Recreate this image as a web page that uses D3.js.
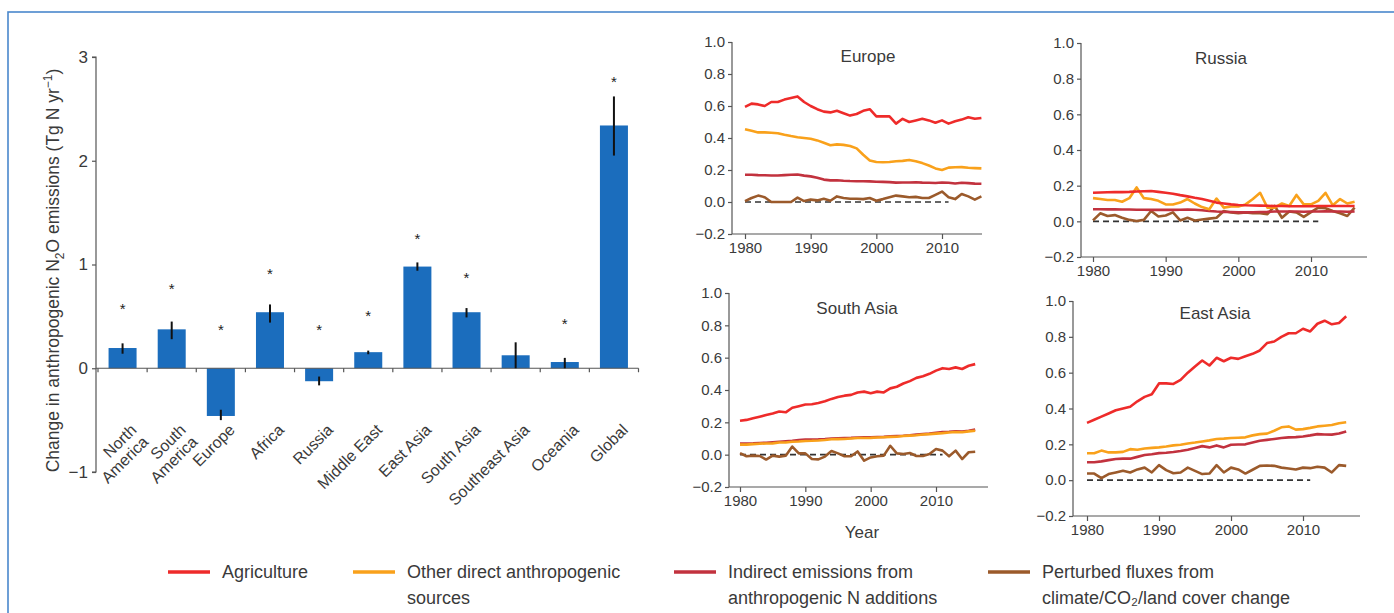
<!DOCTYPE html>
<html>
<head>
<meta charset="utf-8">
<script src="https://cdn.jsdelivr.net/npm/d3@7"></script>
<style>
  body { margin: 0; background: #fff; }
  svg { display: block; font-family: "Liberation Sans", Arial, Helvetica, sans-serif; }
  .axis path, .axis line { stroke: #555; stroke-width: 1.2; }
  .axis text { fill: #3a3a3a; }
</style>
</head>
<body>
<div id="chart"></div>
<script>
//bar chart data
var regions = [["North", "America"], ["South", "America"], ["Europe"], ["Africa"], ["Russia"], ["Middle East"],
               ["East Asia"], ["South Asia"], ["Southeast Asia"], ["Oceania"], ["Global"]];
var barValues = [0.195, 0.375, -0.46, 0.54, -0.125, 0.155, 0.98, 0.54, 0.125, 0.06, 2.34];
var errLow    = [0.14, 0.28, -0.50, 0.44, -0.165, 0.135, 0.94, 0.49, 0.0, 0.0, 2.05];
var errHigh   = [0.24, 0.45, -0.40, 0.615, -0.08, 0.17, 1.02, 0.58, 0.25, 0.10, 2.62];
var starAt    = [0.58, 0.77, 0.38, 0.92, 0.38, 0.51, 1.26, 0.875, null, 0.44, 2.77];
var barTicks  = [-1, 0, 1, 2, 3];

//time series data (1980-2016)
var years = d3.range(1980, 2017);
var seriesNames = ["Agriculture", "Other direct anthropogenic sources", "Indirect emissions from anthropogenic N additions", "Perturbed fluxes from climate/CO2/land cover change"];

var europeAgri = [.595,.615,.61,.60,.625,.625,.64,.65,.66,.625,.60,.58,.565,.56,.57,.555,.54,.55,.57,.58,.535,.535,.535,.49,.52,.50,.51,.52,.51,.495,.51,.49,.505,.515,.53,.52,.525];
var europeOther = [.455,.445,.435,.435,.433,.43,.42,.412,.405,.40,.395,.385,.37,.355,.36,.357,.35,.335,.295,.26,.25,.248,.25,.255,.257,.263,.255,.243,.228,.21,.20,.215,.217,.218,.214,.212,.21];
var europeIndirect = [.17,.17,.168,.167,.166,.166,.168,.17,.172,.165,.16,.152,.14,.135,.136,.133,.131,.13,.13,.129,.127,.126,.124,.121,.122,.122,.123,.121,.12,.119,.122,.12,.116,.12,.118,.115,.114];
var europePerturbed = [.005,.025,.04,.03,0,0,0,0,.027,.006,.015,.01,.02,.008,.035,.025,.02,.02,.018,.025,.008,.018,.03,.04,.035,.03,.032,.025,.025,.045,.065,.03,.018,.05,.035,.015,.035];

var russiaAgri = [.16,.162,.163,.164,.164,.165,.167,.169,.17,.165,.16,.155,.147,.14,.132,.125,.115,.105,.10,.095,.092,.09,.089,.088,.087,.086,.086,.085,.085,.085,.085,.086,.086,.086,.086,.086,.086];
var russiaOther = [.13,.125,.12,.12,.11,.13,.19,.13,.125,.115,.095,.094,.105,.125,.10,.08,.068,.128,.077,.083,.083,.095,.125,.16,.077,.077,.10,.086,.148,.095,.095,.115,.16,.09,.125,.10,.11];
var russiaIndirect = [.068,.068,.067,.067,.066,.066,.065,.065,.064,.064,.064,.064,.065,.066,.065,.062,.058,.055,.053,.052,.05,.05,.051,.052,.053,.055,.055,.055,.055,.054,.055,.055,.056,.055,.055,.054,.055];
var russiaPerturbed = [.005,.045,.03,.035,.02,.008,.002,.008,.058,.027,.033,.05,.005,.02,.005,.01,.015,.02,.058,.05,.045,.05,.045,.045,.04,.086,.02,.055,.05,.025,.052,.077,.073,.058,.045,.03,.077];

var southAsiaAgri = [.21,.215,.225,.235,.245,.255,.267,.262,.29,.30,.31,.312,.32,.33,.345,.357,.365,.37,.385,.39,.38,.39,.385,.41,.42,.44,.455,.475,.485,.50,.52,.535,.53,.54,.53,.55,.56];
var southAsiaOther = [.062,.062,.065,.068,.069,.07,.075,.075,.08,.081,.085,.086,.088,.091,.095,.096,.097,.10,.103,.103,.104,.106,.108,.11,.111,.115,.118,.12,.125,.127,.13,.133,.137,.14,.139,.144,.148];
var southAsiaIndirect = [.068,.069,.07,.072,.074,.077,.08,.083,.086,.09,.093,.094,.095,.097,.10,.102,.103,.104,.106,.108,.108,.109,.11,.113,.115,.117,.12,.124,.127,.13,.136,.14,.142,.145,.143,.148,.155];
var southAsiaPerturbed = [.01,-.01,-.006,-.008,-.03,-.006,-.012,-.006,.05,.008,.008,-.027,-.029,-.012,.023,.008,-.01,-.01,.02,-.037,-.017,-.01,-.006,.055,.008,.004,.01,-.008,-.008,.004,.035,.025,-.01,.025,-.027,.015,.018];

var eastAsiaAgri = [.32,.337,.355,.372,.39,.40,.41,.44,.465,.48,.54,.54,.537,.56,.60,.635,.668,.64,.683,.664,.683,.677,.692,.705,.724,.765,.774,.80,.82,.82,.845,.83,.873,.89,.87,.877,.915];
var eastAsiaOther = [.15,.15,.165,.155,.155,.158,.173,.17,.177,.18,.183,.188,.194,.198,.205,.21,.216,.222,.23,.232,.235,.237,.239,.25,.257,.26,.276,.295,.30,.282,.285,.292,.30,.304,.308,.318,.323];
var eastAsiaIndirect = [.10,.10,.105,.112,.118,.12,.12,.13,.14,.145,.151,.153,.157,.163,.17,.18,.19,.183,.194,.183,.198,.199,.20,.21,.22,.225,.23,.235,.239,.24,.244,.25,.257,.255,.254,.26,.272];
var eastAsiaPerturbed = [.037,.037,.011,.034,.043,.052,.043,.06,.07,.043,.084,.056,.039,.043,.07,.052,.034,.037,.084,.043,.07,.06,.037,.058,.08,.082,.08,.07,.065,.06,.07,.067,.075,.07,.043,.084,.08];

var yearTicks = [1980, 1990, 2000, 2010];
var panelTicks = [-0.2, 0, 0.2, 0.4, 0.6, 0.8, 1.0];

//colour palette
var colors = ['#ee2b2a', '#f9a11b', '#c2323e', '#9b5a2b'];
var barColor = '#1b6dbd';

//appending svg object to body
var svg = d3.select('#chart')
    .append('svg')
    .attr('width', 1394)
    .attr('height', 613);

//outer frame
svg.append('rect')
    .attr('x', 8).attr('y', 12)
    .attr('width', 1400).attr('height', 620)
    .style('fill', 'none')
    .style('stroke', '#4a88cc')
    .style('stroke-width', 1.6);

// ---------------- bar chart ----------------
var x = d3.scaleBand()
    .domain(d3.range(regions.length))
    .range([98, 638.5])
    .paddingInner(0.43)
    .paddingOuter(0.215);

var y = d3.scaleLinear()
    .domain([-1, 3])
    .range([472, 57]);

var gBar = svg.append('g');

gBar.append('g')
    .attr('class', 'axis')
    .attr('transform', 'translate(96,0)')
    .call(d3.axisLeft(y).tickValues(barTicks).tickSize(4).tickPadding(4)
        .tickFormat(function(d) { return d < 0 ? '\u2212' + Math.abs(d) : d; }))
    .call(function(g) { g.select('.domain').attr('d', 'M-4,' + y(3) + 'H0V' + y(-1) + 'H-4'); })
    .selectAll('text').style('font-size', '17px');

//bars
gBar.selectAll('.bar')
    .data(barValues)
    .enter()
    .append('rect')
    .attr('x', function(d, i) { return x(i); })
    .attr('width', x.bandwidth())
    .attr('y', function(d) { return y(Math.max(0, d)); })
    .attr('height', function(d) { return Math.abs(y(d) - y(0)); })
    .style('fill', barColor);

//zero axis with ticks between bars
var boundaries = d3.range(regions.length + 1).map(function(i) { return 98 + i * x.step(); });
gBar.append('line')
    .attr('x1', 96).attr('x2', 638.5)
    .attr('y1', y(0)).attr('y2', y(0))
    .style('stroke', '#555').style('stroke-width', 1.2);
gBar.selectAll('.xtick')
    .data(boundaries)
    .enter()
    .append('line')
    .attr('x1', function(d) { return d; }).attr('x2', function(d) { return d; })
    .attr('y1', y(0)).attr('y2', y(0) + 4)
    .style('stroke', '#555').style('stroke-width', 1.2);

//error bars
gBar.selectAll('.err')
    .data(barValues)
    .enter()
    .append('line')
    .attr('x1', function(d, i) { return x(i) + x.bandwidth() / 2; })
    .attr('x2', function(d, i) { return x(i) + x.bandwidth() / 2; })
    .attr('y1', function(d, i) { return y(errLow[i]); })
    .attr('y2', function(d, i) { return y(errHigh[i]); })
    .style('stroke', '#111').style('stroke-width', 2);

//significance stars (none for Southeast Asia)
gBar.selectAll('.star')
    .data(starAt)
    .enter()
    .append('text')
    .attr('x', function(d, i) { return x(i) + x.bandwidth() / 2; })
    .attr('y', function(d) { return d === null ? 0 : y(d) + 6; })
    .attr('text-anchor', 'middle')
    .style('font-size', '15px')
    .style('fill', '#222')
    .text(function(d) { return d === null ? '' : '*'; });

//category labels
gBar.selectAll('.cat')
    .data(regions)
    .enter()
    .append('text')
    .attr('text-anchor', 'end')
    .style('font-size', '16px')
    .style('fill', '#3a3a3a')
    .attr('transform', function(d, i) {
      return 'translate(' + (x(i) + x.bandwidth() / 2 + 11) + ',' + 427 + ') rotate(-45)';
    })
    .each(function(d) {
      var t = d3.select(this);
      d.forEach(function(line, k) {
        t.append('tspan').attr('x', 0).attr('dy', k === 0 ? '0.35em' : '1.05em').text(line);
      });
    });

//y axis title
var yTitle = gBar.append('text')
    .attr('transform', 'translate(59,' + ((y(3) + y(-1)) / 2 + 6) + ') rotate(-90)')
    .attr('text-anchor', 'middle')
    .style('font-size', '17.5px')
    .style('fill', '#3a3a3a');
yTitle.append('tspan').text('Change in anthropogenic N');
yTitle.append('tspan').attr('dy', 5).style('font-size', '12px').text('2');
yTitle.append('tspan').attr('dy', -5).text('O emissions (Tg N yr');
yTitle.append('tspan').attr('dy', -7).style('font-size', '12px').text('\u22121');
yTitle.append('tspan').attr('dy', 7).text(')');

// ---------------- regional time series ----------------
var panels = [
  {name: 'Europe',     data: [europeAgri, europeOther, europeIndirect, europePerturbed],
   axisX: 732, x1980: 745, x2010: 942, xEnd: 982, yTop: 42, yBot: 234, titleX: 868, titleY: 56},
  {name: 'Russia',     data: [russiaAgri, russiaOther, russiaIndirect, russiaPerturbed],
   axisX: 1081, x1980: 1093, x2010: 1311, xEnd: 1367, yTop: 43, yBot: 257, titleX: 1221, titleY: 58},
  {name: 'South Asia', data: [southAsiaAgri, southAsiaOther, southAsiaIndirect, southAsiaPerturbed],
   axisX: 729, x1980: 740, x2010: 936, xEnd: 988, yTop: 293, yBot: 487, titleX: 857, titleY: 308},
  {name: 'East Asia',  data: [eastAsiaAgri, eastAsiaOther, eastAsiaIndirect, eastAsiaPerturbed],
   axisX: 1073, x1980: 1087, x2010: 1303, xEnd: 1360, yTop: 301, yBot: 516, titleX: 1215, titleY: 313}
];

panels.forEach(function(p) {
  var px = d3.scaleLinear().domain([1980, 2010]).range([p.x1980, p.x2010]);
  var py = d3.scaleLinear().domain([-0.2, 1.0]).range([p.yBot, p.yTop]);
  var g = svg.append('g');

  //axes
  g.append('g')
    .attr('class', 'axis')
    .attr('transform', 'translate(' + p.axisX + ',0)')
    .call(d3.axisLeft(py).tickValues(panelTicks).tickSize(4).tickPadding(3)
        .tickFormat(function(d) { return d < 0 ? '\u2212' + Math.abs(d).toFixed(1) : d.toFixed(1); }))
    .call(function(a) { a.select('.domain').attr('d', 'M0,' + p.yTop + 'V' + p.yBot); })
    .selectAll('text').style('font-size', '15px');

  g.append('g')
    .attr('class', 'axis')
    .attr('transform', 'translate(0,' + p.yBot + ')')
    .call(d3.axisBottom(px).tickValues(yearTicks).tickSize(5).tickPadding(3).tickFormat(d3.format('d')))
    .call(function(a) { a.select('.domain').attr('d', 'M' + p.axisX + ',0H' + p.xEnd); })
    .selectAll('text').style('font-size', '15px');

  //zero reference
  g.append('line')
    .attr('x1', px(1980)).attr('x2', px(2011))
    .attr('y1', py(0)).attr('y2', py(0))
    .style('stroke', '#333')
    .style('stroke-width', 1.6)
    .style('stroke-dasharray', '6,4');

  var line = d3.line()
    .x(function(d, i) { return px(years[i]); })
    .y(function(d) { return py(d); });

  //draw in reverse so agriculture sits on top
  p.data.slice().reverse().forEach(function(s, k) {
    var ci = p.data.length - 1 - k;
    g.append('path')
      .datum(s)
      .attr('d', line)
      .style('fill', 'none')
      .style('stroke', colors[ci])
      .style('stroke-width', 2.6)
      .style('stroke-linejoin', 'round');
  });

  g.append('text')
    .attr('x', p.titleX).attr('y', p.titleY + 6)
    .attr('text-anchor', 'middle')
    .style('font-size', '17px')
    .style('fill', '#3a3a3a')
    .text(p.name);
});

svg.append('text')
  .attr('x', 862).attr('y', 538)
  .attr('text-anchor', 'middle')
  .style('font-size', '17px')
  .style('fill', '#3a3a3a')
  .text('Year');

// ---------------- legend ----------------
var legendX = [168, 353, 674, 988];
var legendLines = [['Agriculture'], ['Other direct anthropogenic', 'sources'],
                   ['Indirect emissions from', 'anthropogenic N additions'],
                   ['Perturbed fluxes from', 'climate/CO\u2082/land cover change']];

var legend = svg.selectAll('.legend')
    .data(seriesNames)
    .enter()
    .append('g')
    .attr('transform', function(d, i) { return 'translate(' + legendX[i] + ',572)'; });

legend.append('line')
    .attr('x1', 0).attr('x2', 42)
    .style('stroke', function(d, i) { return colors[i]; })
    .style('stroke-width', 3.5);

legend.append('text')
    .attr('x', 54)
    .style('font-size', '18px')
    .style('fill', '#3a3a3a')
    .each(function(d, i) {
      var t = d3.select(this);
      legendLines[i].forEach(function(l, k) {
        t.append('tspan').attr('x', 54).attr('dy', k === 0 ? '0.35em' : '1.45em').text(l);
      });
    });
</script>
</body>
</html>
